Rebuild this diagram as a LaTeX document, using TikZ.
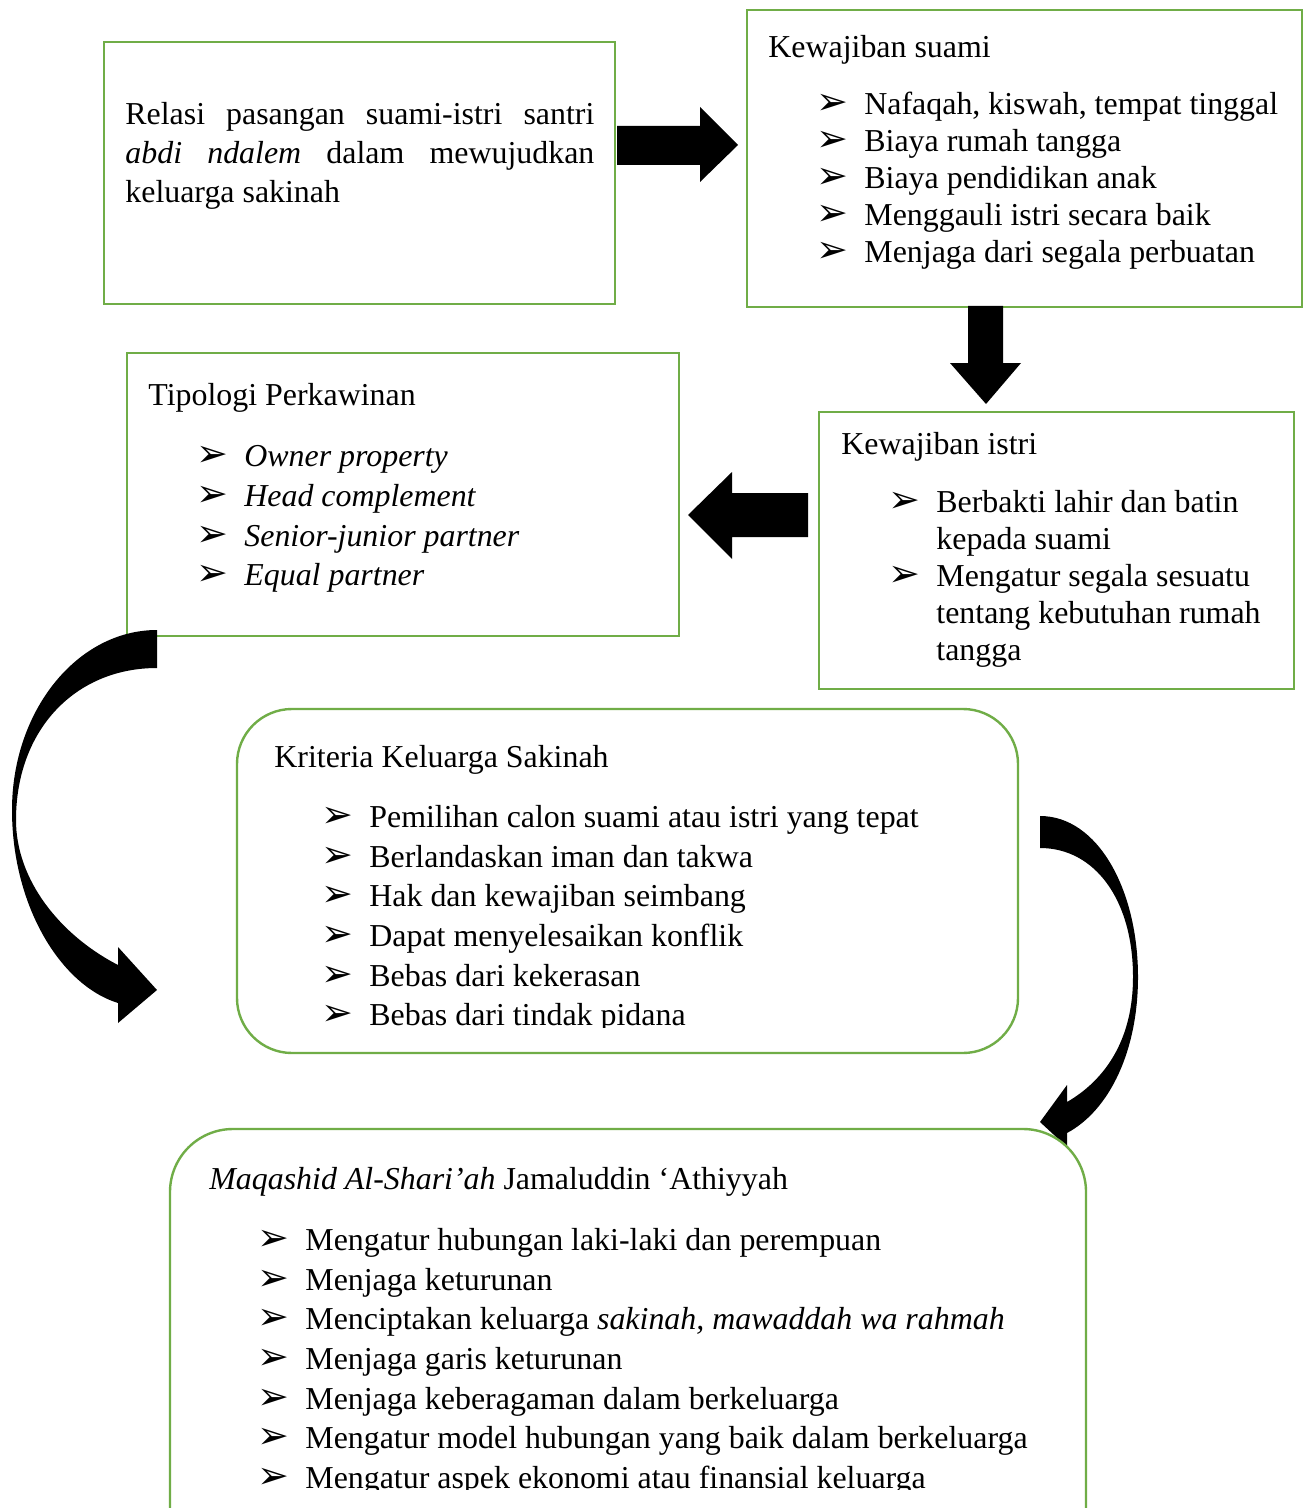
\documentclass[tikz,border=0pt]{standalone}
\usepackage{fontspec}
\setmainfont{Liberation Serif}
\newfontfamily\dvfont{DejaVu Sans}
\definecolor{boxgreen}{HTML}{70AD47}
\tikzset{
  box/.style={draw=boxgreen, line width=1.2pt, inner sep=0pt},
  txt/.style={anchor=base west, inner sep=0pt, font=\fontsize{15.95pt}{18pt}\selectfont},
  bul/.style={anchor=base west, inner sep=0pt, font=\dvfont\fontsize{19pt}{20pt}\selectfont},
  blk/.style={fill=black, draw=none}
}
\begin{document}
\begin{tikzpicture}[x=0.5pt,y=-0.5pt]
\clip (0,0) rectangle (1309,1508);
\fill[white] (0,0) rectangle (1309,1508);
% boxes
\node[box, minimum width=255.5pt, minimum height=131pt] (b1) at (359.5,173) {};
\node[box, minimum width=277.5pt, minimum height=148.5pt] (b2) at (1024.5,158.5) {};
\node[box, minimum width=237.5pt, minimum height=138.5pt] (b3) at (1056.5,550.5) {};
\node[box, minimum width=276pt, minimum height=141.5pt] (b4) at (403,494.5) {};
\node[box, rounded corners=27.5pt, minimum width=390.5pt, minimum height=172pt] (b5) at (627.5,881) {};
% block arrows
\fill[blk] (617,126) -- (700,126) -- (700,107) -- (738,145) -- (700,182) -- (700,165) -- (617,165) -- cycle;
\fill[blk] (968,306) -- (1003,306) -- (1003,363) -- (1021,363) -- (986,404) -- (950,363) -- (968,363) -- cycle;
\fill[blk] (808,493) -- (732,493) -- (732,472) -- (688,515) -- (732,559) -- (732,537) -- (808,537) -- cycle;
% curved arrow left
\fill[blk] (157,630) .. controls (77,630) and (12,711) .. (12,810)
  .. controls (12,905) and (60,985) .. (118,1003)
  -- (118,1023) -- (157,990) -- (118,947) -- (118,965)
  .. controls (60,935) and (16,880) .. (16,820)
  .. controls (16,730) and (75,668) .. (157,668) -- cycle;
% curved arrow right
\fill[blk] (1040,816) .. controls (1098,816) and (1138,890) .. (1138,977)
  .. controls (1138,1050) and (1110,1110) .. (1067,1133)
  -- (1067,1147) -- (1040,1122) -- (1067,1085) -- (1067,1102)
  .. controls (1105,1080) and (1133,1040) .. (1133,977)
  .. controls (1133,900) and (1095,848) .. (1040,848) -- cycle;
\node[box, rounded corners=31.5pt, minimum width=458pt, minimum height=235.5pt] (b6) at (628,1364.5) {};
% box 1 text
\node[txt] (r1) at (125,125) {\makebox[234.5pt][s]{Relasi pasangan suami-istri santri}};
\node[txt] (r2) at (125,164) {\makebox[234.5pt][s]{\textit{abdi ndalem} dalam mewujudkan}};
\node[txt] (r3) at (125,203) {keluarga sakinah};
% box 2 text
\node[txt] (s0) at (768,58) {Kewajiban suami};
\foreach \y/\t [count=\i] in {115/{Nafaqah, kiswah, tempat tinggal},152/{Biaya rumah tangga},189/{Biaya pendidikan anak},226/{Menggauli istri secara baik},263/{Menjaga dari segala perbuatan}}{
  \node[bul] (sb\i) at (816,\y) {➢};
  \node[txt] (st\i) at (864,\y) {\t};
}
% box 3 text
\node[txt] (i0) at (841,454) {Kewajiban istri};
\node[bul] (ib1) at (888,512) {➢};
\node[txt] (it1) at (936,512) {Berbakti lahir dan batin};
\node[txt] (it2) at (936,549) {kepada suami};
\node[bul] (ib2) at (888,586) {➢};
\node[txt] (it3) at (936,586) {Mengatur segala sesuatu};
\node[txt] (it4) at (936,623) {tentang kebutuhan rumah};
\node[txt] (it5) at (936,660) {tangga};
% box 4 text
\node[txt] (p0) at (148,405) {Tipologi Perkawinan};
\foreach \y/\t [count=\i] in {466/{Owner property},506/{Head complement},546/{Senior-junior partner},585/{Equal partner}}{
  \node[bul] (pb\i) at (196,\y) {➢};
  \node[txt] (pt\i) at (244,\y) {\textit{\t}};
}
% box 5 text
\begin{scope}
\clip (0,0) rectangle (1309,1027);
\node[txt] (k0) at (274,767) {Kriteria Keluarga Sakinah};
\foreach \y/\t [count=\i] in {827/{Pemilihan calon suami atau istri yang tepat},867/{Berlandaskan iman dan takwa},906/{Hak dan kewajiban seimbang},946/{Dapat menyelesaikan konflik},986/{Bebas dari kekerasan},1025/{Bebas dari tindak pidana}}{
  \node[bul] (kb\i) at (321,\y) {➢};
  \node[txt] (kt\i) at (369,\y) {\t};
}
\end{scope}
% box 6 text
\begin{scope}
\clip (0,0) rectangle (1309,1489);
\node[txt] (m0) at (209,1189) {\textit{Maqashid Al-Shari’ah} Jamaluddin ‘Athiyyah};
\foreach \y/\t [count=\i] in {1250/{Mengatur hubungan laki-laki dan perempuan},1290/{Menjaga keturunan},1329/{Menciptakan keluarga \textit{sakinah, mawaddah wa rahmah}},1369/{Menjaga garis keturunan},1409/{Menjaga keberagaman dalam berkeluarga},1448/{Mengatur model hubungan yang baik dalam berkeluarga},1488/{Mengatur aspek ekonomi atau finansial keluarga}}{
  \node[bul] (mb\i) at (257,\y) {➢};
  \node[txt] (mt\i) at (305,\y) {\t};
}
\end{scope}
\end{tikzpicture}
\end{document}
